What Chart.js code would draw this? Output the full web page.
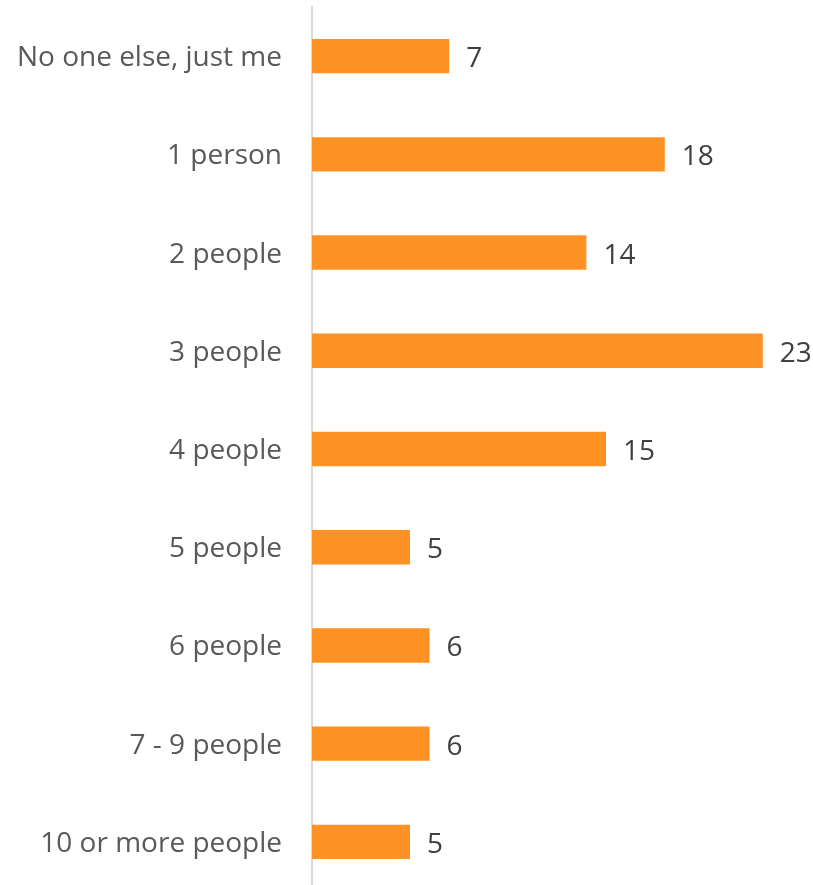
<!DOCTYPE html>
<html><head><meta charset="utf-8">
<script src="https://cdn.jsdelivr.net/npm/chart.js@4/dist/chart.umd.min.js"></script>
<style>html,body{margin:0;padding:0;background:#fff;overflow:hidden;}#wrap{width:813px;height:892px;position:relative;}</style>
</head><body><div id="wrap"><canvas id="c"></canvas></div>
<script>
const categories = ["No one else, just me","1 person","2 people","3 people","4 people","5 people","6 people","7 - 9 people","10 or more people"];
const counts = [7,18,14,23,15,5,6,6,5];
const FONT = "'Open Sans', sans-serif";

const valueLabels = {
  id: 'valueLabels',
  afterDatasetsDraw(chart) {
    const ctx = chart.ctx;
    const meta = chart.getDatasetMeta(0);
    ctx.save();
    ctx.font = "28px " + FONT;
    ctx.fillStyle = '#404040';
    ctx.textAlign = 'left';
    ctx.textBaseline = 'middle';
    meta.data.forEach((bar, i) => {
      ctx.fillText(String(counts[i]), bar.x + 17, bar.y + 3);
    });
    ctx.restore();
  }
};

new Chart(document.getElementById('c'), {
  type: 'bar',
  data: { labels: categories, datasets: [{ data: counts, backgroundColor: '#FF9224', borderWidth: 0, barPercentage: 0.7, categoryPercentage: 0.5 }] },
  options: {
    indexAxis: 'y',
    responsive: true,
    maintainAspectRatio: false,
    animation: false,
    layout: { padding: { top: 7, bottom: 1, left: 0, right: 11 } },
    plugins: { legend: { display: false }, tooltip: { enabled: false } },
    scales: {
      x: { display: false, min: 0, max: 25 },
      y: {
        grid: { display: false, drawTicks: false },
        border: { display: true, color: '#d9d9d9', width: 2 },
        ticks: { color: '#595959', font: { family: FONT, size: 28 }, padding: 30, labelOffset: 2 },
        afterFit(scale) { scale.width = 312; scale.paddingTop = 0; scale.paddingBottom = 0; }
      }
    }
  },
  plugins: [valueLabels]
});
</script></body></html>
